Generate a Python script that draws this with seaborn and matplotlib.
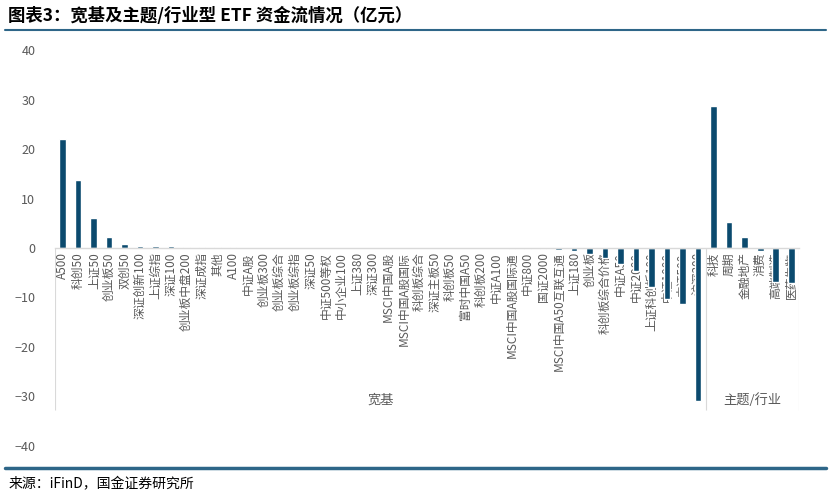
import numpy as np
import pandas as pd
import matplotlib
matplotlib.use("Agg")
import matplotlib.pyplot as plt
import matplotlib.transforms as mtransforms
from matplotlib.lines import Line2D
import seaborn as sns

# ==========================================
# DONNEES
# ==========================================
broad_names = [
    "A500", "科创50", "上证50", "创业板50", "双创50", "深证创新100", "上证综指",
    "深证100", "创业板中盘200", "深证成指", "其他", "A100", "中证A股", "创业板300",
    "创业板综合", "创业板综指", "深证50", "中证500等权", "中小企业100", "上证380",
    "深证300", "MSCI中国A股", "MSCI中国A股国际", "科创板综合", "深证主板50", "科创板50",
    "富时中国A50", "科创板200", "中证A100", "MSCI中国A股国际通", "中证800", "国证2000",
    "MSCI中国A50互联互通", "上证180", "创业板", "科创板综合价格", "中证A50", "中证2000",
    "上证科创板100", "中证1000", "中证500", "沪深300",
]
broad_flows = [
    22.0, 13.7, 6.0, 2.2, 0.8, 0.4, 0.35,
    0.35, 0.3, 0.2, 0.2, 0.2, 0.1, 0.1,
    0.1, 0.1, 0.05, 0.05, 0.03, 0.02,
    0.02, 0.02, -0.03, -0.05, -0.05, -0.05,
    -0.1, -0.1, -0.1, -0.2, -0.3, -0.3,
    -0.4, -0.6, -1.3, -2.0, -3.2, -4.6,
    -7.8, -10.3, -11.3, -31.0,
]
theme_names = ["科技", "周期", "金融地产", "消费", "高端制造", "医药生物"]
theme_flows = [28.8, 5.2, 2.2, -0.7, -6.8, -7.1]
group_labels = ["宽基", "主题/行业"]

BAR_COLOR = "#0b4a6e"
GRID_COLOR = "#d9d9d9"
TEXT_COLOR = "#595959"
LINE_COLOR = "#2e6688"

# ==========================================
# FIGURE
# ==========================================
sns.set_style("white")
plt.rcParams["font.family"] = ["Noto Sans CJK SC", "DejaVu Sans"]

df = pd.DataFrame({
    "name": broad_names + theme_names,
    "flow": broad_flows + theme_flows,
})
n = len(df)

fig = plt.figure(figsize=(8.31, 4.97), dpi=100)
ax = fig.add_axes([0.066, 0.103, 0.8955, 0.796])

sns.barplot(data=df, x="name", y="flow", color=BAR_COLOR, saturation=1,
            width=0.42, ax=ax)

ax.set_ylim(-40, 40)
ax.set_xlim(-0.5, n - 0.5)
ax.set_yticks(np.arange(-40, 41, 10))
ax.tick_params(axis="y", length=0, pad=14, labelsize=9, labelcolor=TEXT_COLOR)
ax.set_xlabel("")
ax.set_ylabel("")

for s in ["top", "right", "left"]:
    ax.spines[s].set_visible(False)
ax.spines["bottom"].set_position(("data", 0))
ax.spines["bottom"].set_color(GRID_COLOR)
ax.spines["bottom"].set_linewidth(1)

# étiquettes verticales sous la ligne zéro
ax.set_xticks(range(n))
ax.set_xticklabels(df["name"], rotation=90, fontsize=8.5, color=TEXT_COLOR)
ax.tick_params(axis="x", which="major", length=0, pad=3)

# séparateurs entre catégories
ax.set_xticks(np.arange(n - 1) + 0.5, minor=True)
ax.tick_params(axis="x", which="minor", length=99, width=0.8, color=GRID_COLOR,
               direction="out")

# séparateurs de groupes + libellés de groupes
sizes = [len(broad_names), len(theme_names)]
bounds = np.concatenate([[0], np.cumsum(sizes)]) - 0.5
ax.vlines(bounds, -32.8, 0, colors=GRID_COLOR, linewidth=0.8, zorder=0)
for lab, a, b in zip(group_labels, bounds[:-1], bounds[1:]):
    ax.text((a + b) / 2, -30.8, lab, ha="center", va="center", fontsize=9.5,
            color=TEXT_COLOR)

# titre, lignes et source
fig.text(0.010, 0.968, "图表3：宽基及主题/行业型 ETF 资金流情况（亿元）",
         fontsize=12.5, fontweight="bold", color="black", va="center",
         style="italic")
fig.add_artist(Line2D([0.006, 0.994], [0.940, 0.940], color=LINE_COLOR,
                      linewidth=1.5, transform=fig.transFigure))
fig.add_artist(Line2D([0.006, 0.994], [0.058, 0.058], color=LINE_COLOR,
                      linewidth=2.5, transform=fig.transFigure))
fig.text(0.010, 0.025, "来源：iFinD，国金证券研究所", fontsize=10,
         color="black", va="center")

fig.savefig("out.png", dpi=100)
